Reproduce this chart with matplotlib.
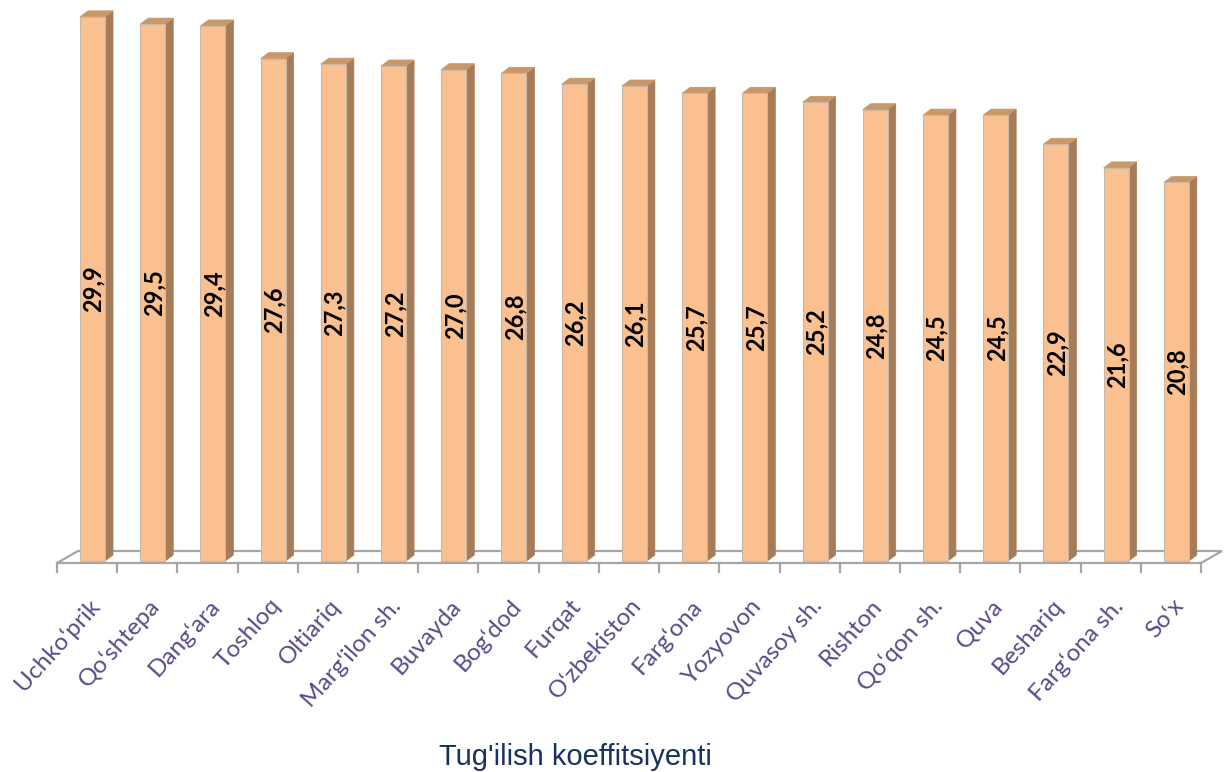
import matplotlib
matplotlib.use("Agg")
import matplotlib.pyplot as plt
from matplotlib.patches import Polygon

categories = ["Uchkoʻprik", "Qoʻshtepa", "Dangʻara", "Toshloq", "Oltiariq",
              "Margʻilon sh.", "Buvayda", "Bogʻdod", "Furqat", "Oʻzbekiston",
              "Fargʻona", "Yozyovon", "Quvasoy sh.", "Rishton", "Qoʻqon sh.",
              "Quva", "Beshariq", "Fargʻona sh.", "Soʻx"]
values = [29.9, 29.5, 29.4, 27.6, 27.3, 27.2, 27.0, 26.8, 26.2, 26.1,
          25.7, 25.7, 25.2, 24.8, 24.5, 24.5, 22.9, 21.6, 20.8]
title = "Tug'ilish koeffitsiyenti"

W, H = 1230, 772
fig = plt.figure(figsize=(W / 100, H / 100), dpi=100)
ax = fig.add_axes([57 / W, (H - 561) / H, 1144 / W, 546 / H])
ax.set_xlim(-0.5, len(categories) - 0.5)
ax.set_ylim(0, 30)
ax.axis("off")

# pixel -> data unit conversions
px_x = 1.0 / 60.2
px_y = 30.0 / 546

front_c = "#FAC090"
side_c = "#A57B58"
top_c = "#C99868"
edge_c = "#C8B8A8"

# floor
fy0 = -2 * px_y
fdx, fdy = 21 * px_x, 12 * px_y
n = len(categories)
floor = Polygon([(-0.5, fy0), (n - 0.5, fy0), (n - 0.5 + fdx, fy0 + fdy),
                 (-0.5 + fdx, fy0 + fdy)], closed=True, facecolor="white",
                edgecolor="#A6A6A6", lw=1.6, clip_on=False, zorder=1)
ax.add_patch(floor)
# ticks
for k in range(n + 1):
    ax.plot([k - 0.5, k - 0.5], [fy0, fy0 - 9 * px_y], color="#A6A6A6",
            lw=1.6, clip_on=False, zorder=1)

bw = 25 * px_x
bdx, bdy = 8 * px_x, 6 * px_y
for i, v in enumerate(values):
    x0 = i - 0.5 + 23 * px_x
    x1 = x0 + bw
    side = Polygon([(x1, 0), (x1 + bdx, bdy), (x1 + bdx, v + bdy), (x1, v)],
                   closed=True, facecolor=side_c, edgecolor=side_c, lw=0.5,
                   clip_on=False, zorder=3)
    top = Polygon([(x0, v), (x1, v), (x1 + bdx, v + bdy), (x0 + bdx, v + bdy)],
                  closed=True, facecolor=top_c, edgecolor=top_c, lw=0.5,
                  clip_on=False, zorder=3)
    ax.add_patch(side)
    ax.add_patch(top)
    ax.bar(x0, v, width=bw, align="edge", color=front_c, edgecolor=edge_c,
           lw=0.8, zorder=4, clip_on=False)
    ax.text(x0 + bw / 2 + 1 * px_x, v / 2, f"{v:.1f}".replace(".", ","),
            rotation=90, ha="center", va="center", fontsize=17,
            fontweight="bold", family=["Lato", "DejaVu Sans"], color="black",
            zorder=5)
    ax.text(i + 1 * px_x, -34 * px_y, categories[i], rotation=48,
            rotation_mode="anchor", ha="right", va="top", fontsize=17.5,
            family=["Lato", "DejaVu Sans"], color="#5B4A8B")

fig.text(575 / W, 1 - 757 / H, title, ha="center", va="center", fontsize=21,
         family=["Liberation Sans", "DejaVu Sans"], color="#17325F")

fig.savefig("out.png", dpi=100, facecolor="white")
